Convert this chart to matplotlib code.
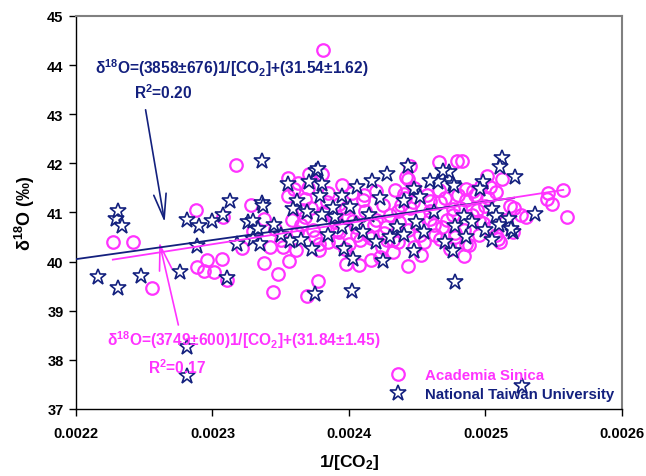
import matplotlib
matplotlib.use('Agg')
import matplotlib.pyplot as plt
import numpy as np

plt.rcParams['font.family'] = ['Liberation Sans', 'DejaVu Sans']
plt.rcParams['font.weight'] = 'bold'
plt.rcParams['mathtext.fontset'] = 'custom'
plt.rcParams['mathtext.rm'] = 'Liberation Sans:bold'
plt.rcParams['mathtext.it'] = 'Liberation Sans:bold'
plt.rcParams['mathtext.bf'] = 'Liberation Sans:bold'

PINK = '#FF33FF'
NAVY = '#13207E'

# Academia Sinica samples (1/[CO2], d18O)
as_x = [0.002381, 0.002317, 0.002288, 0.002328, 0.002338, 0.002308, 0.002227, 0.002242,
        0.002256, 0.002289, 0.002294, 0.002296, 0.002301, 0.002307, 0.002311, 0.002322,
        0.002338, 0.002344, 0.002348, 0.002369, 0.002377, 0.002378, 0.002356, 0.002342,
        0.002352, 0.002361, 0.002443, 0.002453, 0.002416, 0.002407, 0.002398, 0.002423,
        0.002432, 0.002397, 0.002414, 0.002467, 0.002484, 0.002486, 0.002509, 0.002478,
        0.002557, 0.002546, 0.002545, 0.002549, 0.002560, 0.002526, 0.002518, 0.002508,
        0.002512, 0.002501, 0.002479, 0.002483, 0.002466, 0.002445, 0.002442, 0.002497,
        0.002486, 0.002500, 0.002495, 0.002476, 0.002440, 0.002447, 0.002459, 0.002427,
        0.002437, 0.002420, 0.002393, 0.002403, 0.002412, 0.002459, 0.002467, 0.002355,
        0.002355, 0.002360, 0.002371, 0.002380, 0.002368, 0.002368, 0.002384, 0.002346,
        0.002330, 0.002443, 0.002448, 0.002441, 0.002398, 0.002388, 0.002436, 0.002459,
        0.002481, 0.002491, 0.002503, 0.002521, 0.002530, 0.002498, 0.002511, 0.002488,
        0.002478, 0.002468, 0.002463, 0.002443, 0.002436, 0.002426, 0.002416, 0.002406,
        0.002393, 0.002365, 0.002375, 0.002385, 0.002390, 0.002405, 0.002420, 0.002430,
        0.002450, 0.002455, 0.002472, 0.002490, 0.002505, 0.002515, 0.002520, 0.002400,
        0.002410, 0.002425, 0.002470, 0.002480, 0.002395, 0.002385, 0.002372, 0.002362,
        0.002350, 0.002432, 0.002448, 0.002495, 0.002474,
        0.002358, 0.002366, 0.002374, 0.002382, 0.002391, 0.002399, 0.002408, 0.002418,
        0.002428, 0.002438, 0.002452, 0.002462, 0.002476, 0.002486, 0.002494, 0.002502,
        0.002363, 0.002378, 0.002392, 0.002411, 0.002424, 0.002445, 0.002457, 0.002484,
        0.002492, 0.002508, 0.002370, 0.002402, 0.002434, 0.002466]
as_y = [44.30, 41.97, 41.05, 41.15, 40.87, 40.90, 40.40, 40.40,
        39.46, 39.89, 39.81, 40.03, 39.79, 40.05, 39.62, 40.27,
        39.97, 39.38, 39.75, 39.30, 39.60, 40.23, 40.01, 40.30,
        40.30, 40.23, 39.91, 40.13, 40.03, 39.93, 39.95, 40.09,
        40.44, 40.25, 40.54, 40.46, 40.11, 40.36, 40.46, 40.50,
        41.46, 41.39, 41.27, 41.17, 40.90, 40.95, 41.13, 41.42,
        41.68, 41.75, 42.05, 42.05, 42.03, 41.95, 41.72, 41.54,
        41.48, 41.13, 40.83, 41.07, 41.37, 41.21, 41.03, 40.70,
        40.80, 41.44, 41.17, 40.83, 41.03, 40.87, 41.21, 41.70,
        41.33, 41.48, 41.78, 41.78, 41.27, 40.91, 41.21, 40.66,
        40.62, 41.68, 41.50, 41.29, 41.09, 40.93, 41.03, 41.23,
        41.09, 41.44, 41.52, 41.09, 40.91, 40.78, 40.40, 40.34,
        40.58, 40.70, 40.54, 40.64, 40.40, 40.58, 40.48, 40.54,
        40.60, 40.75, 40.50, 40.40, 40.80, 40.70, 40.85, 40.95,
        40.75, 40.40, 40.85, 40.95, 40.70, 40.85, 40.60, 40.35,
        41.25, 41.15, 41.30, 41.35, 41.55, 41.40, 41.10, 40.60,
        40.45, 40.20, 40.30, 40.55, 40.25,
        40.85, 41.05, 40.65, 41.00, 40.65, 40.90, 40.45, 40.75,
        40.45, 41.15, 40.55, 40.75, 40.95, 41.25, 41.05, 41.30,
        41.60, 40.35, 40.40, 41.35, 40.30, 41.10, 41.35, 40.65,
        41.35, 40.55, 41.50, 41.40, 41.45, 41.45]

# National Taiwan University samples
ntu_x = [0.002336, 0.002229, 0.002231, 0.002234, 0.002281, 0.002290, 0.002300, 0.002308,
         0.002313, 0.002326, 0.002330, 0.002336, 0.002337, 0.002333, 0.002216, 0.002231,
         0.002248, 0.002276, 0.002289, 0.002311, 0.002318, 0.002330, 0.002335, 0.002281,
         0.002281, 0.002375, 0.002373, 0.002357, 0.002396, 0.002402, 0.002403, 0.002425,
         0.002448, 0.002478, 0.002476, 0.002527, 0.002520, 0.002512, 0.002511, 0.002522,
         0.002498, 0.002496, 0.002536, 0.002505, 0.002473, 0.002465, 0.002476, 0.002443,
         0.002428, 0.002417, 0.002406, 0.002395, 0.002376, 0.002371, 0.002380, 0.002377,
         0.002355, 0.002362, 0.002359, 0.002369, 0.002379, 0.002423, 0.002401, 0.002459,
         0.002448, 0.002440, 0.002452, 0.002469, 0.002449, 0.002405, 0.002477, 0.002508,
         0.002517, 0.002484, 0.002478, 0.002519, 0.002365, 0.002385, 0.002390, 0.002410,
         0.002415, 0.002430, 0.002435, 0.002455, 0.002462, 0.002470, 0.002490, 0.002500,
         0.002510, 0.002395, 0.002380, 0.002420, 0.002440, 0.002505, 0.002486, 0.002350,
         0.002345, 0.002388]
ntu_y = [42.05, 40.87, 41.03, 40.72, 40.85, 40.72, 40.83, 40.95,
         41.23, 40.81, 40.83, 41.19, 41.13, 40.66, 39.68, 39.46,
         39.71, 39.79, 40.32, 39.66, 40.36, 40.46, 40.36, 38.26,
         37.67, 39.34, 40.25, 40.42, 40.25, 39.40, 40.05, 40.01,
         40.21, 39.58, 40.21, 37.46, 40.60, 42.10, 41.92, 41.72,
         41.62, 41.48, 40.97, 41.07, 41.82, 41.62, 41.58, 41.95,
         41.78, 41.64, 41.52, 41.33, 41.85, 41.62, 41.58, 41.88,
         41.58, 41.23, 41.07, 41.01, 41.33, 41.29, 41.11, 41.64,
         41.48, 41.23, 41.31, 41.84, 40.81, 40.77, 41.54, 40.93,
         40.87, 40.93, 40.72, 40.66, 40.45, 40.55, 40.90, 40.60,
         40.95, 40.50, 40.70, 40.60, 41.00, 40.40, 40.80, 40.65,
         40.75, 40.70, 40.95, 40.40, 40.55, 40.45, 40.50, 40.55,
         40.75, 41.10]

# fitted lines, end points as drawn
ntu_fit_x = [0.00220, 0.002521]
ntu_fit_y = [40.05, 41.30]
as_fit_x = [0.002227, 0.002557]
as_fit_y = [40.04, 41.46]

fig = plt.figure(figsize=(6.46, 4.77), dpi=100)
ax = fig.add_axes([0.1176, 0.1405, 0.8452, 0.8239])

ax.plot(as_x, as_y, linestyle='none', marker='o', markersize=9, markerfacecolor='none',
        markeredgecolor=PINK, markeredgewidth=1.6, label='Academia Sinica', zorder=2)
ax.plot(ntu_x, ntu_y, linestyle='none', marker='*', markersize=12, markerfacecolor='white',
        markeredgecolor=NAVY, markeredgewidth=1.2, label='National Taiwan University', zorder=3)
ax.plot(ntu_fit_x, ntu_fit_y, color=NAVY, lw=1.3, zorder=4)
ax.plot(as_fit_x, as_fit_y, color=PINK, lw=1.3, zorder=4)

ax.set_xlim(0.0022, 0.0026)
ax.set_ylim(37, 45)
ax.set_xticks(np.arange(0.0022, 0.00261, 0.0001))
ax.set_xticklabels(['0.0022', '0.0023', '0.0024', '0.0025', '0.0026'])
ax.set_yticks(range(37, 46))
ax.tick_params(direction='out', length=5, width=1, labelsize=10.5, pad=4)
ax.tick_params(axis='x', pad=7)
for s in ['left', 'bottom']:
    ax.spines[s].set_color('black')
    ax.spines[s].set_linewidth(1.0)
for s in ['top', 'right']:
    ax.spines[s].set_color('#808080')
    ax.spines[s].set_linewidth(1.5)

ax.set_xlabel('1/[CO$_2$]', fontsize=12.5, fontweight='bold', labelpad=9)
ax.set_ylabel('δ$^{18}$O (‰)', fontsize=13, fontweight='bold', labelpad=7)

# annotations
ax.text(0.002214, 43.96, 'δ$^{18}$O=(3858±676)1/[CO$_2$]+(31.54±1.62)', color=NAVY,
        fontsize=11.2, fontweight='bold', ha='left', va='center')
ax.text(0.002264, 43.45, 'R$^2$=0.20', color=NAVY, fontsize=11.2, fontweight='bold',
        ha='center', va='center')
ax.annotate('', xy=(0.002265, 40.80), xytext=(0.002251, 43.09),
            arrowprops=dict(arrowstyle='->,head_length=1.8,head_width=0.45', color=NAVY, lw=1.2,
                            shrinkA=0, shrinkB=0, mutation_scale=10))
ax.text(0.002223, 38.42, 'δ$^{18}$O=(3749±600)1/[CO$_2$]+(31.84±1.45)', color=PINK,
        fontsize=11.2, fontweight='bold', ha='left', va='center')
ax.text(0.002274, 37.87, 'R$^2$=0.17', color=PINK, fontsize=11.2, fontweight='bold',
        ha='center', va='center')
ax.annotate('', xy=(0.002261, 40.40), xytext=(0.002275, 38.71),
            arrowprops=dict(arrowstyle='->,head_length=1.8,head_width=0.45', color=PINK, lw=1.2,
                            shrinkA=0, shrinkB=0, mutation_scale=10))

leg = ax.legend(loc='lower right', frameon=False, handletextpad=0.8,
                borderaxespad=0.1, labelspacing=0.35, prop={'weight': 'bold', 'size': 10.8})
for t, c in zip(leg.get_texts(), [PINK, NAVY]):
    t.set_color(c)

fig.savefig('out.png', dpi=100, facecolor='white')
